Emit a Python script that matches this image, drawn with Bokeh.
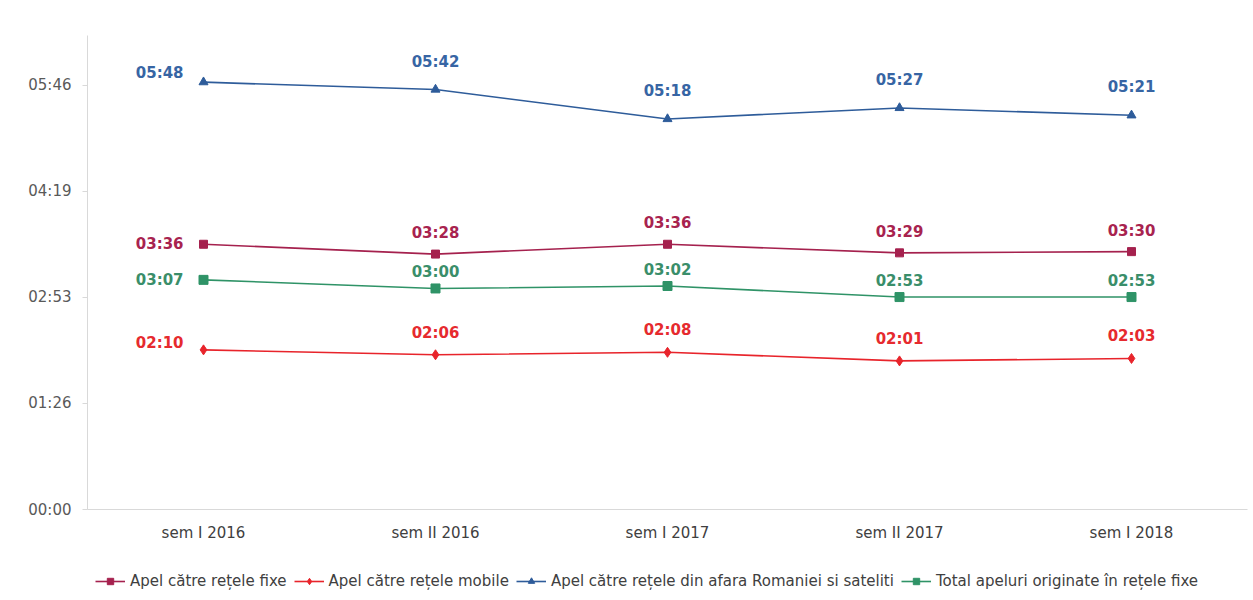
from bokeh.plotting import figure
from bokeh.layouts import column
from bokeh.models import (FixedTicker, CustomJSTickFormatter, Legend, LegendItem,
                          ColumnDataSource, Range1d, FactorRange)
from bokeh.embed import file_html
from bokeh.resources import INLINE
from bokeh.core.properties import value

# ---- data (durations in seconds) ----
periods = ["sem I 2016", "sem II 2016", "sem I 2017", "sem II 2017", "sem I 2018"]
fixe = [216, 208, 216, 209, 210]      # 03:36 03:28 03:36 03:29 03:30
mobile = [130, 126, 128, 121, 123]    # 02:10 02:06 02:08 02:01 02:03
afara = [348, 342, 318, 327, 321]     # 05:48 05:42 05:18 05:27 05:21
total = [187, 180, 182, 173, 173]     # 03:07 03:00 03:02 02:53 02:53
y_ticks = [0, 86.4, 172.8, 259.2, 345.6]
names = ["Apel către rețele fixe", "Apel către rețele mobile",
         "Apel către rețele din afara Romaniei si sateliti",
         "Total apeluri originate în rețele fixe"]


def fmt(s):
    return "%02d:%02d" % (s // 60, s % 60)


FONT = "DejaVu Sans"

p = figure(width=1250, height=547, x_range=FactorRange(*periods),
           y_range=Range1d(0, 386), output_backend="svg", toolbar_location=None,
           min_border_left=87, min_border_right=3, min_border_top=35,
           min_border_bottom=38)
p.outline_line_color = None
p.xgrid.grid_line_color = None
p.ygrid.grid_line_color = None
p.background_fill_color = "white"
p.border_fill_color = "white"

# axes
p.yaxis.ticker = FixedTicker(ticks=y_ticks)
p.yaxis.formatter = CustomJSTickFormatter(code="""
const s = Math.round(tick);
const m = Math.floor(s / 60), r = s % 60;
return String(m).padStart(2, '0') + ':' + String(r).padStart(2, '0');
""")
p.yaxis.minor_tick_line_color = None
p.yaxis.major_tick_out = 5
p.yaxis.major_tick_in = 0
p.yaxis.major_tick_line_color = "#D9D9D9"
p.yaxis.axis_line_color = "#D9D9D9"
p.yaxis.major_label_standoff = 11
p.yaxis.major_label_text_font = FONT
p.yaxis.major_label_text_font_size = "15px"
p.yaxis.major_label_text_color = "#595959"

p.xaxis.axis_line_color = "#D9D9D9"
p.xaxis.major_tick_line_color = None
p.xaxis.minor_tick_line_color = None
p.xaxis.major_tick_out = 0
p.xaxis.major_label_standoff = 14
p.xaxis.major_label_text_font = FONT
p.xaxis.major_label_text_font_size = "15px"
p.xaxis.major_label_text_color = "#404040"

series = [
    (fixe, "#A5214E", "#A8234F", "square", 8, -21, 0),
    (mobile, "#E8242B", "#E62A2E", "diamond", 10, -22, -7),
    (afara, "#2E5C9A", "#3765A4", "triangle", 9, -28, -9),
    (total, "#2F9367", "#3A8E6A", "square", 9, -16, 0),
]

# legend-only strip below the chart (its y range keeps the series out of view)
lf = figure(width=1250, height=51, x_range=FactorRange(*periods),
            y_range=Range1d(1000, 1001), output_backend="svg",
            toolbar_location=None, min_border=0)
lf.axis.visible = False
lf.grid.visible = False
lf.outline_line_color = None
lf.border_fill_color = "white"

items = []
for (vals, col, lcol, mk, sz, off, first_off), name in zip(series, names):
    src = ColumnDataSource(dict(x=periods, y=vals, t=[fmt(v) for v in vals]))
    p.line("x", "y", source=src, line_color=col, line_width=1.6)
    p.scatter("x", "y", source=src, marker=mk, size=sz,
              fill_color=col, line_color=col)
    rest = ColumnDataSource(dict(x=periods[1:], y=vals[1:],
                                 t=[fmt(v) for v in vals[1:]]))
    p.text("x", "y", text="t", source=rest, text_align="center",
           text_baseline="middle", y_offset=off, text_color=lcol,
           text_font=value(FONT), text_font_style="bold",
           text_font_size="15px")
    first = ColumnDataSource(dict(x=periods[:1], y=vals[:1],
                                  t=[fmt(vals[0])]))
    p.text("x", "y", text="t", source=first, text_align="right",
           text_baseline="middle", x_offset=-20, y_offset=first_off,
           text_color=lcol, text_font=value(FONT), text_font_style="bold",
           text_font_size="15px")
    # legend sample glyphs
    ln = lf.line("x", "y", source=src, line_color=col, line_width=1.6)
    sc = lf.scatter("x", "y", source=src, marker=mk, size=sz - 2,
                    fill_color=col, line_color=col)
    items.append(LegendItem(label=name, renderers=[ln, sc], index=0))

legend = Legend(items=items, orientation="horizontal", location=(8, 8),
                border_line_color=None, background_fill_alpha=0,
                label_text_font=FONT, label_text_font_size="15px",
                label_text_color="#404040", glyph_width=30, glyph_height=16,
                label_height=16, spacing=7, label_standoff=5, padding=2,
                margin=0)
lf.add_layout(legend, "center")

open("out.html", "w").write(file_html(column(p, lf, spacing=0), INLINE))
